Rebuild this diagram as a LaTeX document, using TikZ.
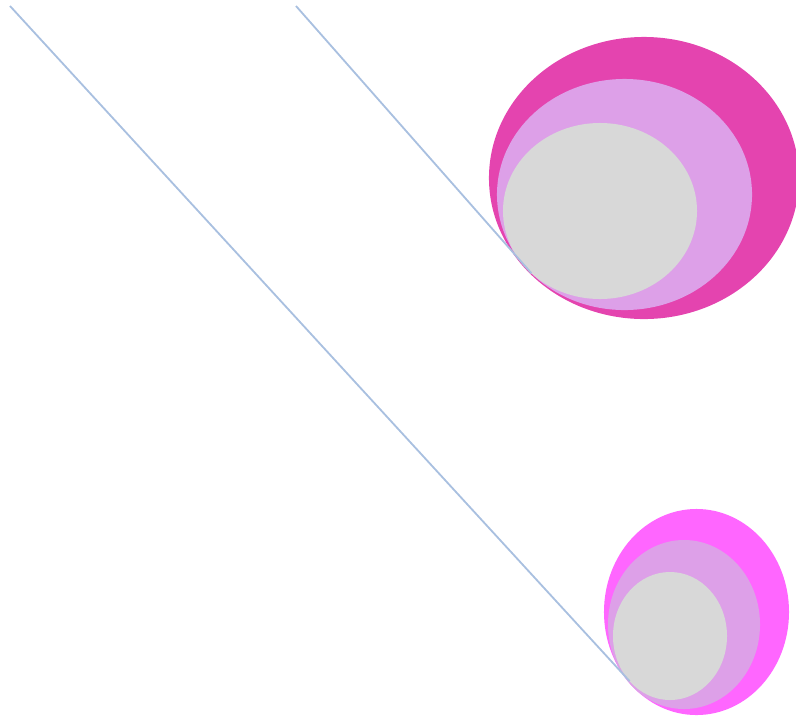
\documentclass[tikz,border=0pt]{standalone}
\usepackage{xcolor}
\usetikzlibrary{shapes.geometric}
\definecolor{ringmagenta}{HTML}{E444AF}
\definecolor{ringpink}{HTML}{FF66FF}
\definecolor{ringplum}{HTML}{DDA0E8}
\definecolor{coregray}{HTML}{D8D8D8}
\definecolor{linkblue}{HTML}{A9C0E0}

\begin{document}
\begin{tikzpicture}[
  x=0.025cm, y=-0.025cm,
  blob/.style={ellipse, draw=none, inner sep=0pt, outer sep=0pt},
  link/.style={draw=linkblue, line width=1.3pt}
]
  \useasboundingbox (0,0) rectangle (796,719);
  % upper group
  \node[blob, fill=ringmagenta, minimum width=7.75cm, minimum height=7.05cm] (outerA) at (644,178) {};
  \node[blob, fill=ringplum, minimum width=6.375cm, minimum height=5.775cm] (midA) at (624.5,194.5) {};
  \node[blob, fill=coregray, minimum width=4.85cm, minimum height=4.4cm] (coreA) at (600,211) {};
  % lower group
  \node[blob, fill=ringpink, minimum width=4.625cm, minimum height=5.15cm] (outerB) at (696.5,612) {};
  \node[blob, fill=ringplum, minimum width=3.8cm, minimum height=4.225cm] (midB) at (684,624.5) {};
  \node[blob, fill=coregray, minimum width=2.85cm, minimum height=3.2cm] (coreB) at (670,636) {};
  % links
  \coordinate (topA) at (296,6);
  \coordinate (topB) at (10,6);
  \draw[link] (topA) -- (coreA.south west);
  \draw[link] (topB) -- (coreB.south west);
\end{tikzpicture}
\end{document}
